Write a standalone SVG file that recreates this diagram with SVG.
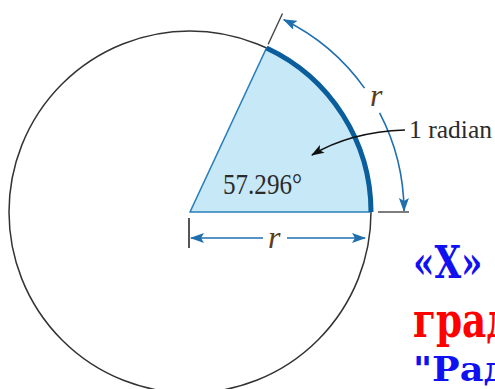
<svg xmlns="http://www.w3.org/2000/svg" width="495" height="389" viewBox="0 0 495 389">
<defs>
<style>
.circ{fill:none;stroke:#333;stroke-width:1.5}
.dim{fill:none;stroke:#1f6fae;stroke-width:1.6}
.ext{fill:none;stroke:#444;stroke-width:1.4}
.lbl{font-family:"Liberation Serif","Times New Roman",serif;fill:#2b2b2b}
.rlab{font-family:"Liberation Serif","Times New Roman",serif;font-style:italic;fill:#5e3d1c}
.big{font-family:"DejaVu Serif",serif;font-weight:bold}
</style>
<marker id="ab" markerUnits="userSpaceOnUse" viewBox="0 0 14 10" refX="13" refY="5" markerWidth="14" markerHeight="10" orient="auto-start-reverse">
<path d="M0,0 L14,5 L0,10 L3,5 z" fill="#1f6fae"/>
</marker>
<marker id="ak" markerUnits="userSpaceOnUse" viewBox="0 0 13 9" refX="12" refY="4.5" markerWidth="13" markerHeight="9" orient="auto">
<path d="M0,0 L13,4.5 L0,9 L3,4.5 z" fill="#111"/>
</marker>
</defs>
<g id="circle">
<circle class="circ" cx="190" cy="212" r="181"/>
</g>
<g id="sector">
<path d="M190,212 L371,212 A181,181 0 0 0 266.5,48 Z" fill="#c6e8f7" stroke="#2a7fbb" stroke-width="1.6" stroke-linejoin="round"/>
<path d="M371,212 A181,181 0 0 0 266.5,48" fill="none" stroke="#0b5e9c" stroke-width="5"/>
<text class="lbl" x="223" y="194" font-size="29" textLength="79" lengthAdjust="spacingAndGlyphs">57.296°</text>
</g>
<g id="connectors">
<line class="ext" x1="268.2" y1="44.3" x2="282.5" y2="13.5"/>
<line class="ext" x1="378" y1="212" x2="409" y2="212"/>
<line x1="189" y1="218" x2="189" y2="248" stroke="#555" stroke-width="2"/>
<path class="dim" d="M364.5,88.1 A214,214 0 0 0 283.8,19.7" marker-end="url(#ab)"/>
<path class="dim" d="M379.6,112.9 A214,214 0 0 1 404,211" marker-end="url(#ab)"/>
<path class="dim" d="M263,238 H191" marker-end="url(#ab)"/>
<path class="dim" d="M287,238 H365" marker-end="url(#ab)"/>
<path d="M405,130 Q350,132 312,155" fill="none" stroke="#111" stroke-width="1.5" marker-end="url(#ak)"/>
</g>
<g id="labels">
<text class="rlab" x="370" y="106" font-size="32">r</text>
<text class="rlab" x="268" y="248" font-size="32">r</text>
<text class="lbl" x="409" y="138" font-size="25" textLength="83" lengthAdjust="spacingAndGlyphs">1 radian</text>
</g>
<g id="caption">
<text class="big" transform="translate(413,278) scale(0.78,1)" font-size="44" fill="#1010f0">«Х»</text>
<text class="big" transform="translate(413,337) scale(0.78,1)" font-size="48" fill="#ff0000">град</text>
<text class="big" transform="translate(413,381) scale(1.08,1)" font-size="34" fill="#1010f0">"Рад</text>
</g>
</svg>
